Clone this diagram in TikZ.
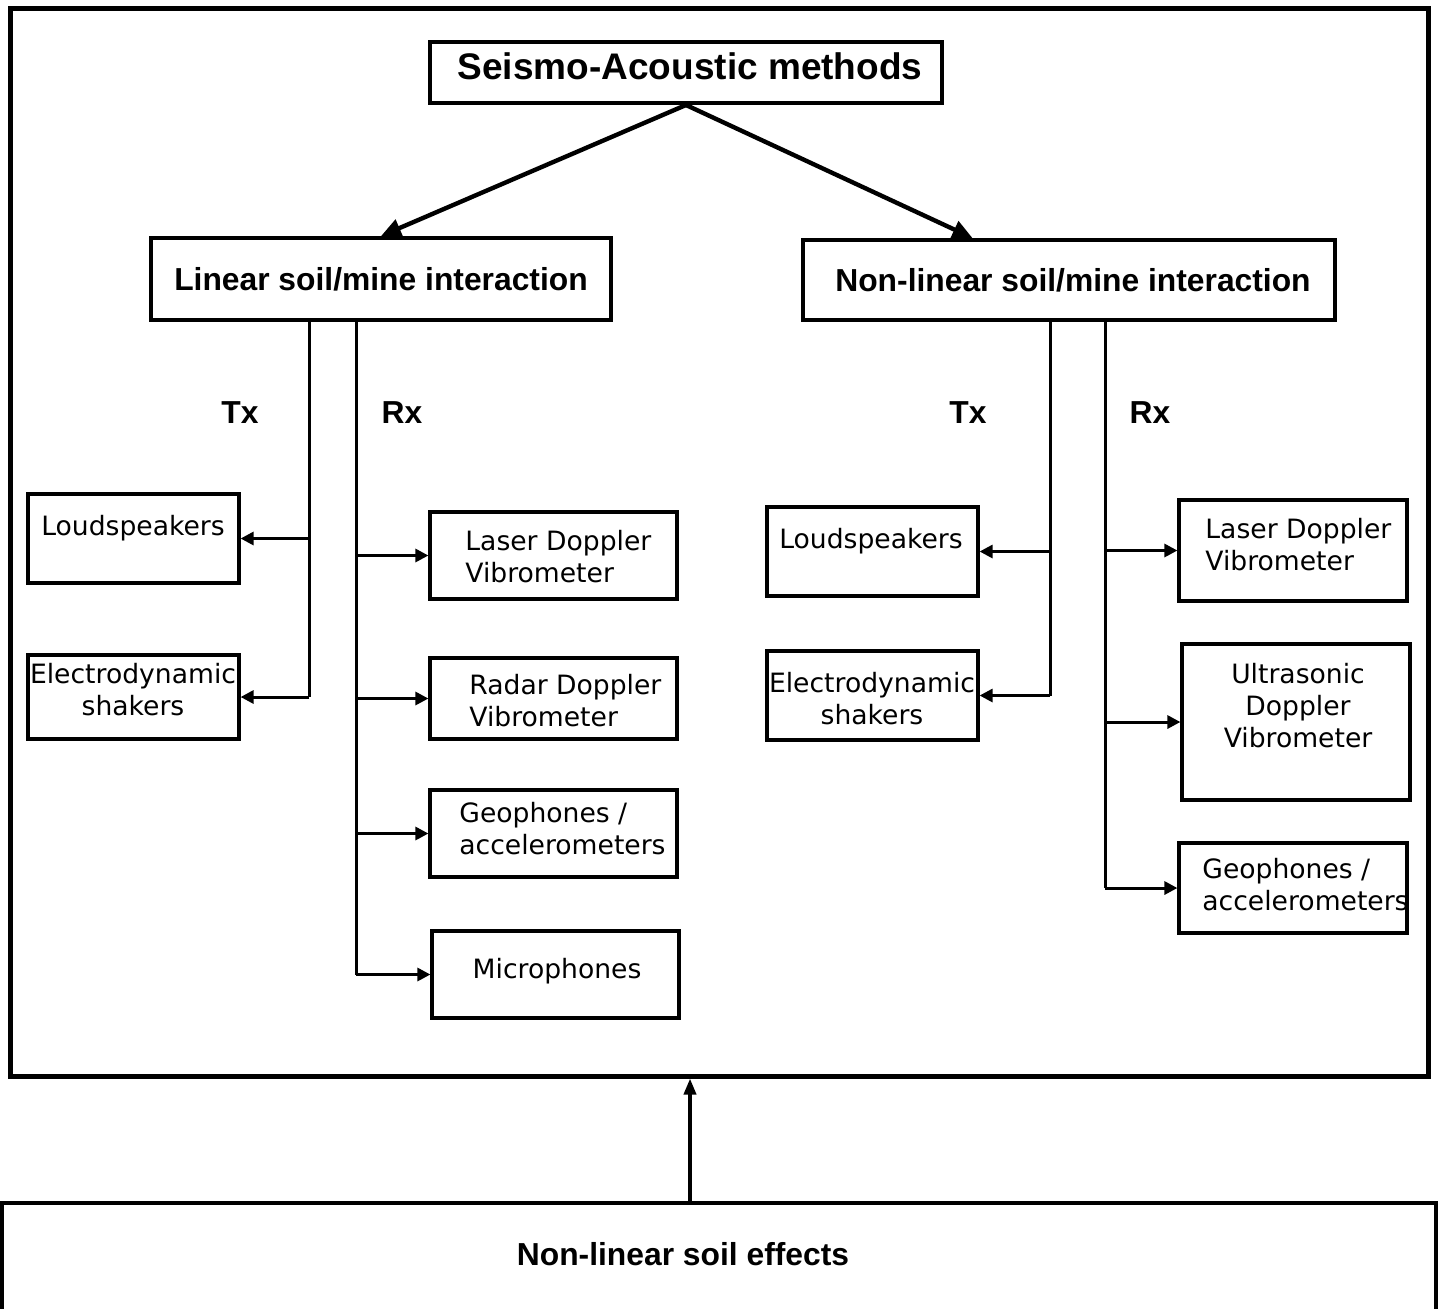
\documentclass[tikz,border=0pt]{standalone}
\usepackage{fontspec}
\setmainfont{DejaVu Sans}
\newfontfamily\headfont{Liberation Sans}
\usetikzlibrary{arrows.meta,calc,fit}

\begin{document}
\begin{tikzpicture}[x=0.5pt,y=-0.5pt,
    box/.style={draw,line width=1.6pt,inner sep=0pt},
    hbox/.style={box,line width=2pt},
    head/.style={font=\headfont\bfseries\fontsize{15.9}{19}\selectfont},
    txt/.style={font=\fontsize{13.3}{16}\selectfont,inner sep=0pt},
    arr/.style={line width=1.5pt,-{Triangle[length=6.5pt,width=6.5pt]}},
    bigarr/.style={line width=2.2pt,-{Triangle[length=10pt,width=9pt]}}]
  \useasboundingbox (0,0) rectangle (1439,1308);
  \clip (0,0) rectangle (1439,1308);
  \node[box,line width=2.5pt,fit={(10,8) (1428,1076)}] (outer) {};
  \node[hbox,line width=2.3pt,fit={(2,1203) (1436,1340)}] (effects) {};
  \node[head] (efftext) at (683,1254) {Non-linear soil effects};
  \draw[line width=1.8pt,-{Triangle[length=8pt,width=6pt]}] (effects.north -| 690,0) -- (outer.south -| 690,0);

  \node[hbox,fit={(430,42) (942,103)}] (title) {};
  \node[head,font=\headfont\bfseries\fontsize{18.5}{22}\selectfont] (titletext) at (690,66) {Seismo-Acoustic methods};
  \node[hbox,fit={(151,238) (611,320)}] (lin) {};
  \node[head] (lintext) at (381,279) {Linear soil/mine interaction};
  \node[hbox,fit={(803,240) (1335,320)}] (nonlin) {};
  \node[head] (nonlintext) at (1073,280) {Non-linear soil/mine interaction};
  \draw[bigarr] (title.south) -- (lin.north);
  \draw[bigarr] (title.south) -- ($(nonlin.north west)!0.32!(nonlin.north east)$);

  \coordinate (ltx) at (309,0);
  \coordinate (lrx) at (356,0);
  \coordinate (rtx) at (1050,0);
  \coordinate (rrx) at (1105,0);
  \node[head] (ltxl) at (240,413) {Tx};
  \node[head] (lrxl) at (402,413) {Rx};
  \node[head] (rtxl) at (968,413) {Tx};
  \node[head] (rrxl) at (1150,413) {Rx};

  % linear
  \node[box,fit={(28,494) (239,583)}] (lls) {};
  \node[txt] at (133,528) {Loudspeakers};
  \node[box,fit={(28,655) (239,739)}] (lsh) {};
  \node[txt,align=center] at (133,690) {Electrodynamic\\shakers};
  \node[box,fit={(430,512) (677,599)}] (lldv) {};
  \node[txt,align=left,anchor=west] at (465,557) {Laser Doppler\\Vibrometer};
  \node[box,fit={(430,658) (677,739)}] (lrdv) {};
  \node[txt,align=left,anchor=west] at (469,701) {Radar Doppler\\Vibrometer};
  \node[box,fit={(430,790) (677,877)}] (lgeo) {};
  \node[txt,align=left,anchor=west] at (459,829) {Geophones /\\accelerometers};
  \node[box,fit={(432,931) (679,1018)}] (lmic) {};
  \node[txt] at (557,971) {Microphones};

  % non-linear
  \node[box,fit={(767,507) (978,596)}] (rls) {};
  \node[txt] at (871,541) {Loudspeakers};
  \node[box,fit={(767,651) (978,740)}] (rsh) {};
  \node[txt,align=center] at (872,699) {Electrodynamic\\shakers};
  \node[box,fit={(1179,500) (1407,601)}] (rldv) {};
  \node[txt,align=left,anchor=west] at (1205,545) {Laser Doppler\\Vibrometer};
  \node[box,fit={(1182,644) (1410,800)}] (rudv) {};
  \node[txt,align=center] at (1298,706) {Ultrasonic\\Doppler\\Vibrometer};
  \node[box,fit={(1179,843) (1407,933)}] (rgeo) {};
  \node[txt,align=left,anchor=west] at (1202,885) {Geophones /\\accelerometers};

  \draw[line width=1.5pt] (lin.south -| ltx) -- (ltx |- lsh.east);
  \draw[line width=1.5pt] (lin.south -| lrx) -- (lrx |- lmic.west);
  \draw[line width=1.5pt] (nonlin.south -| rtx) -- (rtx |- rsh.east);
  \draw[line width=1.5pt] (nonlin.south -| rrx) -- (rrx |- rgeo.west);
  \foreach \b in {lls,lsh} \draw[arr] (ltx |- \b.east) -- (\b.east);
  \foreach \b in {lldv,lrdv,lgeo,lmic} \draw[arr] (lrx |- \b.west) -- (\b.west);
  \foreach \b in {rls,rsh} \draw[arr] (rtx |- \b.east) -- (\b.east);
  \foreach \b in {rldv,rudv,rgeo} \draw[arr] (rrx |- \b.west) -- (\b.west);
\end{tikzpicture}
\end{document}
